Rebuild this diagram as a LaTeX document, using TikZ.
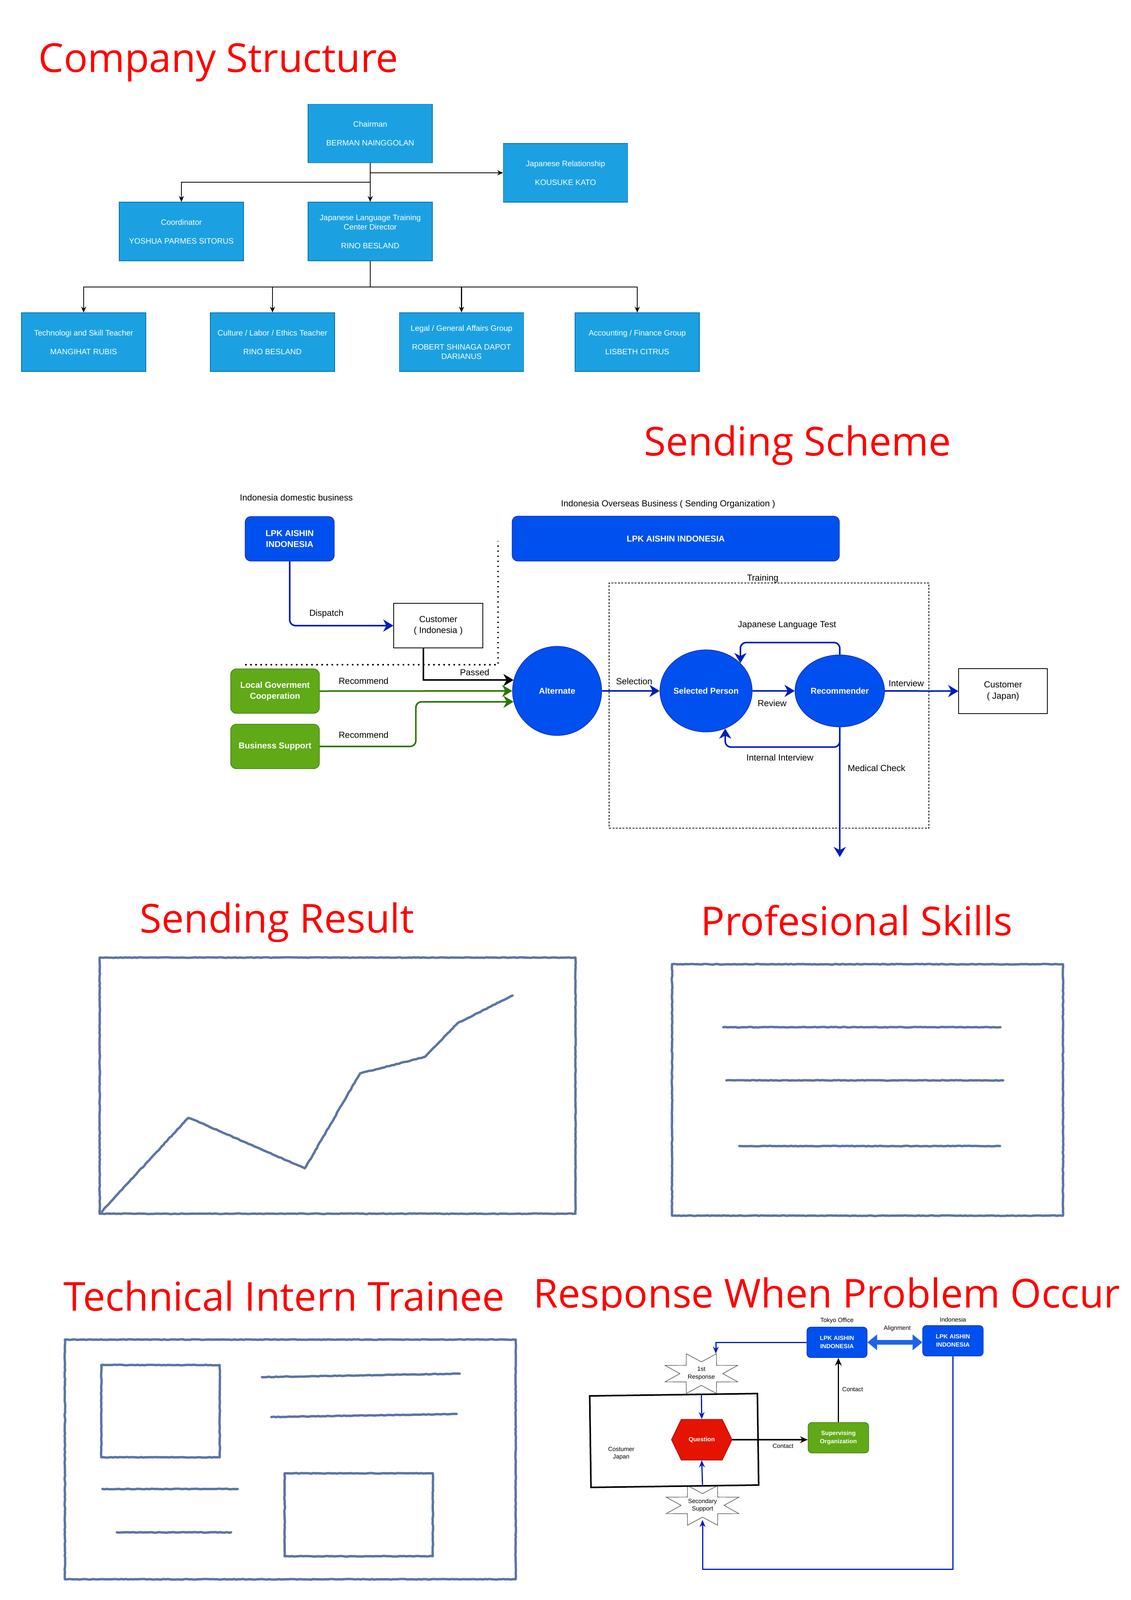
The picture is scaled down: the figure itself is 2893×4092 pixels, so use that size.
\documentclass[tikz,border=0pt]{standalone}
\usepackage{fontspec}
\setmainfont{Liberation Sans}
\newfontfamily\titlefont{Open Sans}
\usetikzlibrary{shapes.geometric,arrows.meta,calc,positioning,decorations.pathmorphing}

\definecolor{orgfill}{HTML}{1BA1E2}
\definecolor{orgline}{HTML}{006EAF}
\definecolor{bluefill}{HTML}{0050EF}
\definecolor{blueline}{HTML}{001DBC}
\definecolor{greenfill}{HTML}{60A917}
\definecolor{greenline}{HTML}{2D7600}
\definecolor{redfill}{HTML}{E51400}
\definecolor{redline}{HTML}{B20000}
\definecolor{alignblue}{RGB}{30,100,235}
\definecolor{sketchblue}{RGB}{92,117,163}
\definecolor{titlered}{HTML}{FF0000}

\begin{document}
\begin{tikzpicture}[x=0.1mm, y=-0.1mm,
  sectitle/.style={anchor=base west, inner sep=0pt, text=titlered, font=\titlefont\fontsize{29}{34}\selectfont},
  orgbox/.style={draw=orgline, fill=orgfill, text=white, minimum width=31.8mm, minimum height=15mm, inner sep=0pt, align=center, font=\fontsize{5.7}{6.8}\selectfont},
  orgarrow/.style={draw=black, line width=0.22mm, -{Stealth[length=1.5mm,width=1.3mm]}},
  lbl/.style={inner sep=0pt, align=center, font=\fontsize{6.4}{8}\selectfont},
  smalllbl/.style={inner sep=0pt, align=center, font=\fontsize{4.4}{5.6}\selectfont},
  bluebox/.style={draw=blueline, fill=bluefill, text=white, rounded corners=1.5mm, inner sep=0pt, align=center, font=\bfseries\fontsize{6.2}{8}\selectfont},
  greenbox/.style={draw=greenline, fill=greenfill, text=white, rounded corners=1.5mm, inner sep=0pt, align=center, minimum width=22.7mm, minimum height=11.4mm, font=\bfseries\fontsize{6.2}{8}\selectfont},
  whitebox/.style={draw=black, fill=white, line width=0.15mm, inner sep=0pt, align=center, font=\fontsize{6.4}{8}\selectfont},
  bluecircle/.style={ellipse, draw=blueline, fill=bluefill, text=white, inner sep=0pt, font=\bfseries\fontsize{6.1}{7.5}\selectfont},
  bluearrow/.style={draw=blueline, line width=0.4mm, rounded corners=1.5mm, -{Stealth[length=2.6mm,width=3.1mm,inset=0.8mm]}},
  greenarrow/.style={draw=greenline, line width=0.4mm, rounded corners=1.5mm, -{Stealth[length=2.6mm,width=3.1mm,inset=0.8mm]}},
  blackarrow/.style={draw=black, line width=0.4mm, -{Stealth[length=2.6mm,width=3.1mm,inset=0.8mm]}},
  sketch/.style={draw=sketchblue, line width=0.6mm, line join=round, line cap=round, decorate, decoration={random steps, segment length=0.6mm, amplitude=0.08mm}},
  rbluebox/.style={bluebox, rounded corners=1mm, font=\bfseries\fontsize{4.4}{6}\selectfont},
  rgreenbox/.style={greenbox, rounded corners=1mm, font=\bfseries\fontsize{4.4}{6}\selectfont},
  rbluearrow/.style={draw=blueline, line width=0.3mm, -{Stealth[length=1.8mm,width=1.5mm]}},
  rblackarrow/.style={draw=black, line width=0.35mm, -{Stealth[length=2mm,width=1.7mm]}},
  alignarrow/.style={draw=alignblue, line width=1.2mm, {Triangle[length=2.5mm,width=3.9mm]}-{Triangle[length=2.5mm,width=3.9mm]}}]

\useasboundingbox (0,0) rectangle (2893,4092);
\fill[white] (0,0) rectangle (2893,4092);

% company structure
\node[sectitle] (cstitle) at (98,184) {Company Structure};
\node[orgbox] (chair) at (947,341.5) {Chairman\\[2.4mm]BERMAN NAINGGOLAN};
\node[orgbox] (japrel) at (1446.5,442) {Japanese Relationship\\[2.4mm]KOUSUKE KATO};
\node[orgbox] (coord) at (464,592) {Coordinator\\[2.4mm]YOSHUA PARMES SITORUS};
\node[orgbox] (jltc) at (947,592) {Japanese Language Training\\Center Director\\[2.4mm]RINO BESLAND};
\node[orgbox] (tech) at (214,875) {Technologi and Skill Teacher\\[2.4mm]MANGIHAT RUBIS};
\node[orgbox] (culture) at (697,875) {Culture / Labor / Ethics Teacher\\[2.4mm]RINO BESLAND};
\node[orgbox] (legal) at (1180.5,875) {Legal / General Affairs Group\\[2.4mm]ROBERT SHINAGA DAPOT\\DARIANUS};
\node[orgbox] (acct) at (1630,875) {Accounting / Finance Group\\[2.4mm]LISBETH CITRUS};
\draw[orgarrow] (chair.south) |- (japrel.west);
\draw[orgarrow] (chair.south) -- ++(0,49) -| (coord.north);
\draw[orgarrow] (chair.south) -- (jltc.north);
\foreach \n in {tech,culture,legal,acct}
  \draw[orgarrow] (jltc.south) -- ++(0,66) -| (\n.north);

% sending scheme
\node[sectitle] (sstitle) at (1647,1165) {Sending Scheme};
\node[lbl] (dombiz) at (758,1272) {Indonesia domestic business};
\node[lbl] (ovsbiz) at (1709,1290) {Indonesia Overseas Business ( Sending Organization )};
\node[bluebox, minimum width=22.8mm, minimum height=11.4mm] (lpkdom) at (741,1378) {LPK AISHIN\\INDONESIA};
\node[bluebox, minimum width=83.7mm, minimum height=11.5mm] (lpkovs) at (1728.5,1377.5) {LPK AISHIN INDONESIA};
\node[whitebox, minimum width=22.8mm, minimum height=11.4mm] (custind) at (1121,1600) {Customer\\( Indonesia )};
\node[greenbox] (localgov) at (703.5,1767.5) {Local Goverment\\Cooperation};
\node[greenbox] (bizsup) at (703.5,1909) {Business Support};
\node[draw, dash pattern=on 0.5mm off 0.35mm, line width=0.15mm, minimum width=81.8mm, minimum height=62.7mm, inner sep=0pt] (training) at (1967,1804.5) {};
\node[lbl] (trainlbl) at (1951,1480) {Training};
\node[bluecircle, circle, minimum size=22.8mm] (alt) at (1425,1767) {Alternate};
\node[bluecircle, minimum width=23mm, minimum height=21mm] (selp) at (1806,1767) {Selected Person};
\node[bluecircle, minimum width=22.9mm, minimum height=18.4mm] (recm) at (2148,1767) {Recommender};
\node[whitebox, minimum width=22.7mm, minimum height=11.5mm] (custjp) at (2565.5,1767.5) {Customer\\( Japan)};
\coordinate (medend) at (2148,2192);

\draw[line width=0.35mm, dash pattern=on 0.35mm off 0.95mm] (627,1700) -- (1274,1700) -- (1274,1384);

\draw[bluearrow] (lpkdom.south) |- (custind.west);
\draw[blackarrow] ($(custind.south west)!0.333!(custind.south east)$) |- (alt.166);
\draw[greenarrow] (localgov.east) -- (alt.west);
\draw[greenarrow] (bizsup.east) -- ++(246,0) |- (alt.194);
\draw[bluearrow] (alt.east) -- (selp.west);
\draw[bluearrow] (selp.east) -- (recm.west);
\draw[bluearrow] (recm.east) -- (custjp.west);
\draw[bluearrow] (recm.north) -- ++(0,-31) -| (selp.39);
\draw[bluearrow] (recm.south) -- ++(0,51) -| (selp.297);
\draw[bluearrow] (recm.south) -- (medend);

\node[lbl] (dispatchlbl) at (835,1570) {Dispatch};
\node[lbl] (passedlbl) at (1214,1719) {Passed};
\node[lbl] (rec1lbl) at (930,1741) {Recommend};
\node[lbl] (rec2lbl) at (930,1879) {Recommend};
\node[lbl] (sellbl) at (1622,1742) {Selection};
\node[lbl] (revlbl) at (1975,1798) {Review};
\node[lbl] (intvlbl) at (2318,1747) {Interview};
\node[lbl] (jltlbl) at (2013,1599) {Japanese Language Test};
\node[lbl] (intintlbl) at (1995,1937) {Internal Interview};
\node[lbl] (medlbl) at (2242,1964) {Medical Check};

% sending result
\node[sectitle] (srtitle) at (357,2385) {Sending Result};
\draw[sketch] (255,2449) rectangle (1472,3104);
\draw[sketch] (255,3104) -- (482,2858) -- (780,2988) -- (921,2745) -- (1087,2703) -- (1170,2617) -- (1311,2546);

% profesional skills
\node[sectitle] (pstitle) at (1792,2392) {Profesional Skills};
\draw[sketch] (1719,2466) rectangle (2719,3109);
\draw[sketch] (1850,2627) -- (2559,2627);
\draw[sketch] (1858,2763) -- (2566,2763);
\draw[sketch] (1891,2931) -- (2558,2931);

% technical intern trainee
\node[sectitle] (tititle) at (162,3352) {Technical Intern Trainee};
\draw[sketch] (166,3426) rectangle (1319,4039);
\draw[sketch] (259,3491) rectangle (562,3727);
\draw[sketch] (728,3768) rectangle (1107,3980);
\draw[sketch] (670,3522) -- (1176,3513);
\draw[sketch] (694,3624) -- (1168,3616);
\draw[sketch] (262,3808) -- (608,3808);
\draw[sketch] (299,3919) -- (591,3919);

% response when problem occur
\node[sectitle] (rptitle) at (1364,3344) {Response When Problem Occur};
\fill[white] (1340,3352) rectangle (2893,4092);

\coordinate (resp1c) at (1794,3513);
\coordinate (secc) at (1797,3850);
\coordinate (qc) at (1795,3682);
\foreach \c in {resp1c,secc}
  \filldraw[fill=white, draw=black!75, line width=0.12mm] ($(\c)+(54.8,0)$)
    \foreach \a in {22.5,67.5,...,337.5} {-- ($(\c)+({100.6*cos(\a)},{55*sin(\a)})$) -- ($(\c)+({54.8*cos(\a+22.5)},{30*sin(\a+22.5)})$)} -- cycle;
\node[draw, line width=0.4mm, minimum width=42.9mm, minimum height=23.4mm, rotate=0.8] (cjbox) at (1724.5,3684) {};
\filldraw[fill=redfill, draw=redline, line width=0.15mm] ($(qc)+(-77.5,0)$) -- ++(25,-52) -- ++(105,0) -- ++(25,52) -- ++(-25,52) -- ++(-105,0) -- cycle;

\node[smalllbl, minimum width=18.6mm, minimum height=10.1mm] (resp1) at (resp1c) {1st\\Response};
\node[smalllbl, minimum width=18.6mm, minimum height=10.1mm] (secsup) at (secc) {Secondary\\Support};
\node[smalllbl, text=white, font=\bfseries\fontsize{4.4}{5.6}\selectfont, minimum width=15.5mm, minimum height=10.4mm] (question) at (qc) {Question};
\node[smalllbl] (cjlbl) at (1589,3717) {Costumer\\Japan};
\node[rbluebox, minimum width=15.4mm, minimum height=7.8mm] (lpktok) at (2141,3433) {LPK AISHIN\\INDONESIA};
\node[smalllbl, above=0.8mm of lpktok] (tokyolbl) {Tokyo Office};
\node[rbluebox, minimum width=15.5mm, minimum height=7.8mm] (lpkind) at (2437.5,3429) {LPK AISHIN\\INDONESIA};
\node[smalllbl, above=0.8mm of lpkind] (indolbl) {Indonesia};
\node[rgreenbox, minimum width=15.5mm, minimum height=7.8mm] (superv) at (2144.5,3677) {Supervising\\Organization};

\draw[alignarrow] (lpktok.east) -- (lpktok.east -| lpkind.west);
\draw[rbluearrow] (lpktok.west) -| ([xshift=3.7mm]resp1.north);
\draw[rbluearrow] (resp1.south) -- (question.north);
\draw[rbluearrow] (secsup.north) -- (question.south);
\draw[rbluearrow] (lpkind.south) -- ++(0,545) -| ([yshift=1.4mm]secsup.south);
\draw[rblackarrow] (question.east) -- (question.east -| superv.west);
\draw[rblackarrow] (superv.north) -- (superv.north |- lpktok.south);

\node[smalllbl] (alignlbl) at (2295,3397) {Alignment};
\node[smalllbl] (contact1lbl) at (2003,3698) {Contact};
\node[smalllbl] (contact2lbl) at (2181,3553) {Contact};
\end{tikzpicture}
\end{document}
